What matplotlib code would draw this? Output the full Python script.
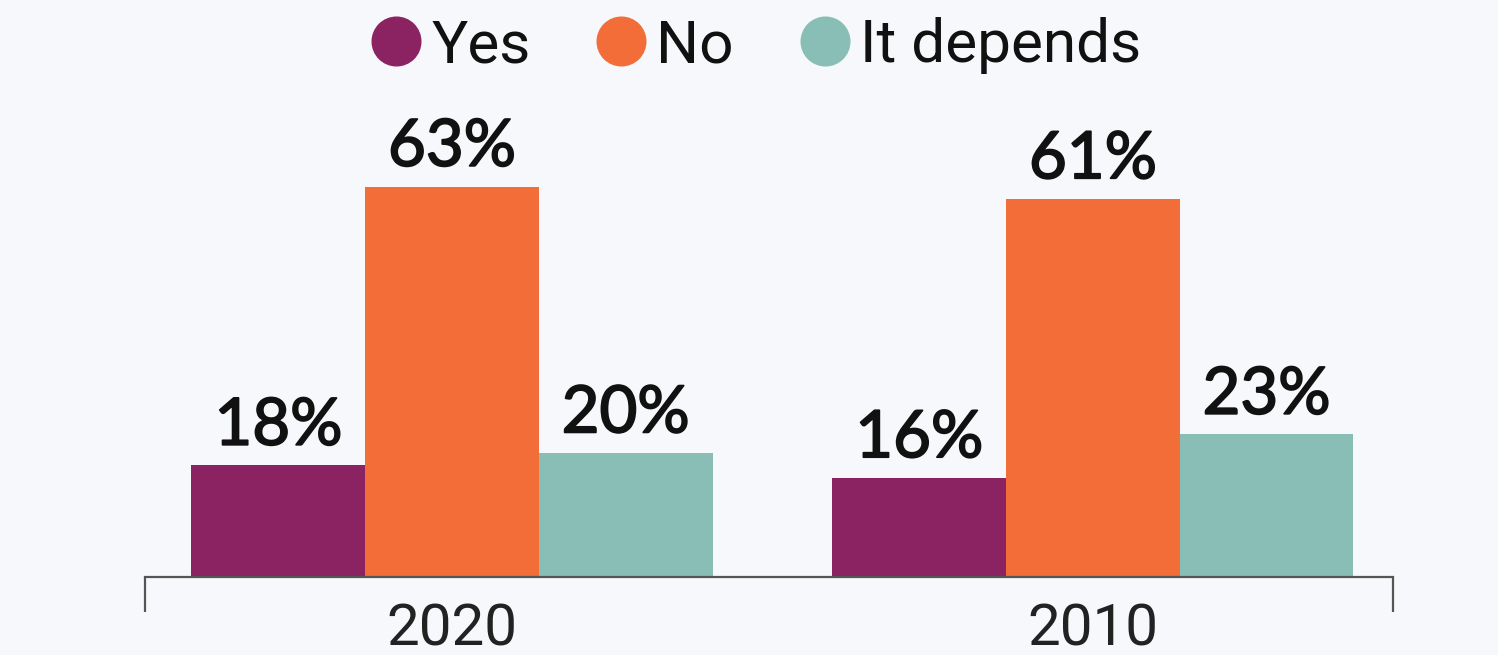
import matplotlib
matplotlib.use("Agg")
import matplotlib.pyplot as plt
import matplotlib.patheffects as pe
from matplotlib.lines import Line2D
import numpy as np

# data
years = ["2020", "2010"]
answers = ["Yes", "No", "It depends"]
yes = [18, 16]
no = [63, 61]
depends = [20, 23]
colors = ["#8B2262", "#F26D38", "#88BEB6"]

BG = "#F6F8FB"

fig = plt.figure(figsize=(14.98, 6.55), dpi=100, facecolor=BG)
ax = fig.add_axes([0.0968, 0.119, 0.833, 0.881])
ax.set_facecolor(BG)

x = np.arange(len(years))
width = 0.271
for i, (vals, col) in enumerate(zip([yes, no, depends], colors)):
    bars = ax.bar(x + (i - 1) * width, vals, width=width, color=col, zorder=2)
    for b, v in zip(bars, vals):
        ax.annotate(
            f"{v}%",
            xy=(b.get_x() + b.get_width() / 2, b.get_height()),
            xytext=(0, 7),
            textcoords="offset points",
            ha="center",
            va="bottom",
            fontsize=47,
            family=["Lato", "DejaVu Sans"],
            color="#111111",
            path_effects=[pe.withStroke(linewidth=1.3, foreground="#111111")],
        )

ax.set_xlim(-0.479, 1.468)
ax.set_ylim(0, 93.1)

for s in ["top", "left", "right"]:
    ax.spines[s].set_visible(False)
ax.spines["bottom"].set_color("#555555")
ax.spines["bottom"].set_linewidth(1.6)
ax.set_yticks([])

ax.set_xticks(x)
ax.set_xticklabels(years, family=["Roboto", "DejaVu Sans"], fontsize=42, color="#222222")
ax.tick_params(axis="x", which="major", length=0, pad=18)
ax.set_xticks([-0.479, 1.468], minor=True)
ax.tick_params(axis="x", which="minor", length=25, width=1.6, color="#555555", direction="out")

handles = [
    Line2D([], [], marker="o", linestyle="none", markersize=35, markerfacecolor=c, markeredgecolor=c)
    for c in colors
]
fig.legend(
    handles,
    answers,
    loc="center",
    bbox_to_anchor=(0.503, 0.93),
    ncol=3,
    frameon=False,
    handlelength=1.0,
    handletextpad=0.08,
    columnspacing=1.0,
    prop={"family": ["Roboto", "DejaVu Sans"], "size": 43.5},
    labelcolor="#111111",
)

fig.savefig("out.png", dpi=100, facecolor=BG)
